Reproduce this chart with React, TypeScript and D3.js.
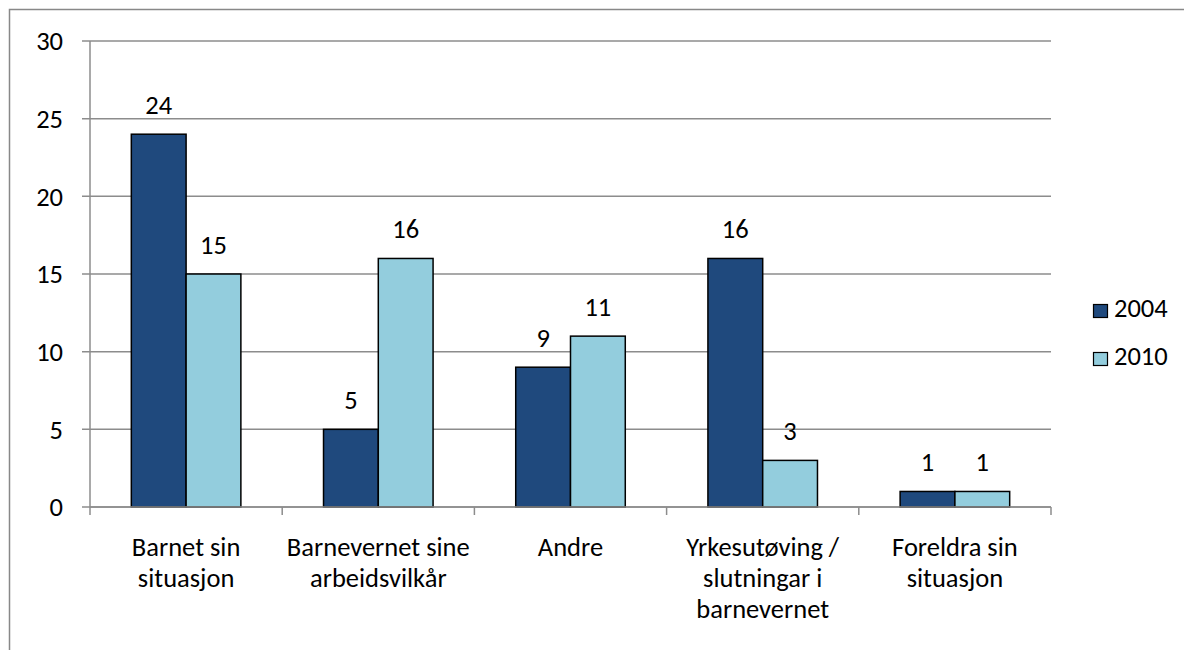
import * as d3 from "d3";
import React from "react";

const categories = [
    ["Barnet sin", "situasjon"],
    ["Barnevernet sine", "arbeidsvilkår"],
    ["Andre"],
    ["Yrkesutøving /", "slutningar i", "barnevernet"],
    ["Foreldra sin", "situasjon"],
];
const values2004 = [24, 5, 9, 16, 1];
const values2010 = [15, 16, 11, 3, 1];
const seriesNames = ["2004", "2010"];
const seriesColours = ["#1F497D", "#93CDDD"];
const yTicks = [0, 5, 10, 15, 20, 25, 30];

const width = 1184;
const height = 650;
const plotLeft = 90;
const plotRight = 1051;
const plotTop = 41;
const plotBottom = 507;
const font = "Carlito, Calibri, 'Open Sans', sans-serif";
const fontSize = 26.5;

function App() {
    const x = d3.scaleBand<number>()
        .domain(d3.range(categories.length))
        .range([plotLeft, plotRight]);
    const y = d3.scaleLinear().domain([0, 30]).range([plotBottom, plotTop]);
    const barW = x.bandwidth() * 0.285;
    const series = [values2004, values2010];

    return (
        <svg width={width} height={height} style={{ position: "absolute", left: 0, top: 0, background: "#fff" }}>
            <rect x={9.5} y={9.5} width={width + 10} height={height + 10} fill="#fff" stroke="#888" strokeWidth={1.5} />
            {yTicks.map(t => (
                <g key={t}>
                    <line x1={plotLeft - 8} x2={plotRight} y1={y(t)} y2={y(t)} stroke="#8c8c8c" strokeWidth={1.5} />
                    <text x={plotLeft - 27} y={y(t)} dy="0.35em" textAnchor="end" fontFamily={font} fontSize={fontSize}>{t}</text>
                </g>
            ))}
            <line x1={plotLeft} x2={plotLeft} y1={plotTop} y2={plotBottom} stroke="#8c8c8c" strokeWidth={1.5} />
            {d3.range(categories.length + 1).map(i => {
                const xx = plotLeft + i * x.step();
                return <line key={i} x1={xx} x2={xx} y1={plotBottom} y2={plotBottom + 8} stroke="#8c8c8c" strokeWidth={1.5} />;
            })}
            {series.map((vals, s) => vals.map((v, i) => {
                const cx = (x(i) as number) + x.bandwidth() / 2;
                const bx = s === 0 ? cx - barW : cx;
                return (
                    <g key={`${s}-${i}`}>
                        <rect x={bx} y={y(v)} width={barW} height={plotBottom - y(v)} fill={seriesColours[s]} stroke="#000" strokeWidth={1.5} />
                        <text x={bx + barW / 2} y={y(v) - 20} textAnchor="middle" fontFamily={font} fontSize={fontSize}>{v}</text>
                    </g>
                );
            }))}
            <line x1={plotLeft} x2={plotRight} y1={plotBottom} y2={plotBottom} stroke="#8c8c8c" strokeWidth={1.5} />
            {categories.map((lines, i) => (
                <text key={i} textAnchor="middle" fontFamily={font} fontSize={fontSize}>
                    {lines.map((l, j) => (
                        <tspan key={j} x={(x(i) as number) + x.bandwidth() / 2} y={556 + j * 31}>{l}</tspan>
                    ))}
                </text>
            ))}
            {seriesNames.map((n, s) => (
                <g key={n} transform={`translate(1093, ${304 + s * 48})`}>
                    <rect x={0.5} y={0.5} width={14} height={13} fill={seriesColours[s]} stroke="#000" strokeWidth={1.2} />
                    <text x={21} y={13} fontFamily={font} fontSize={fontSize}>{n}</text>
                </g>
            ))}
        </svg>
    );
}

export default App;
